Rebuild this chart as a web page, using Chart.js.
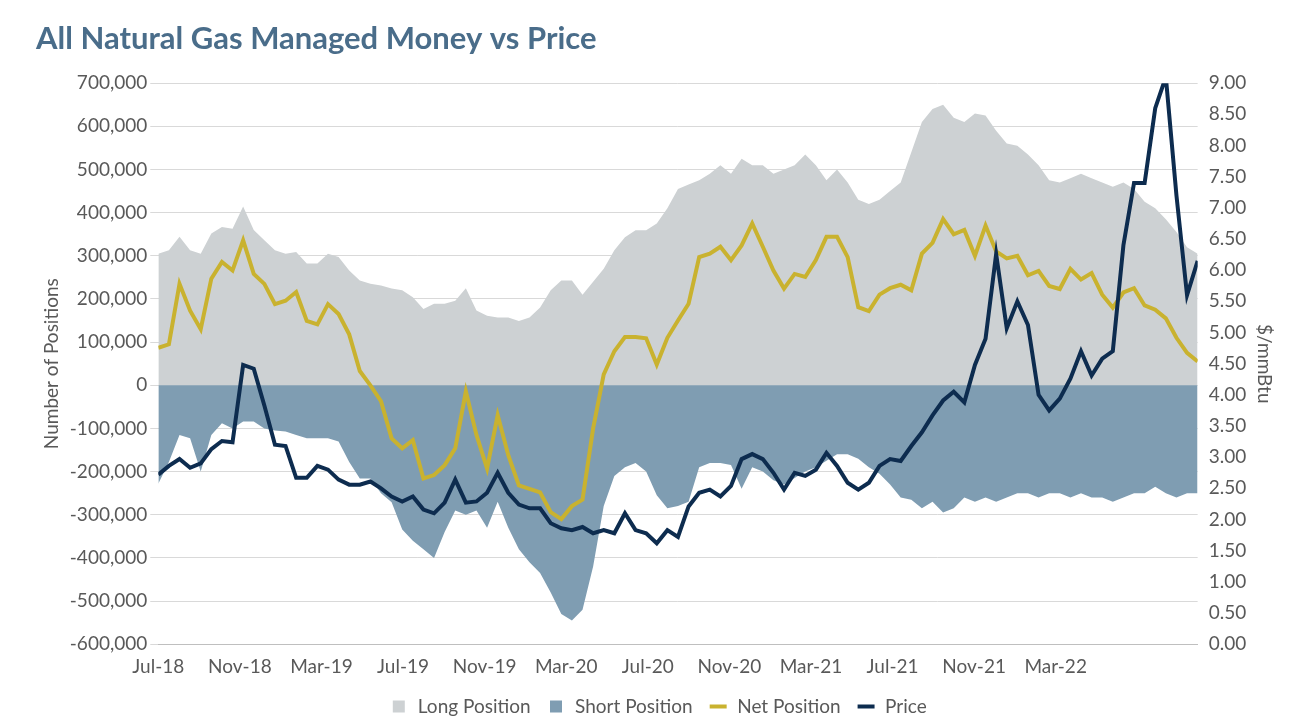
<!DOCTYPE html>
<html>
<head>
<meta charset="utf-8">
<script src="https://cdn.jsdelivr.net/npm/chart.js@4"></script>
<style>
  body { margin: 0; background: #fff; }
  #wrap { width: 1300px; height: 728px; }
</style>
</head>
<body>
<div id="wrap"><canvas id="myChart"></canvas></div>
<script>
// roughly half-month steps starting Jul-18
const tickLabels = ['Jul-18','Nov-18','Mar-19','Jul-19','Nov-19','Mar-20','Jul-20','Nov-20','Mar-21','Jul-21','Nov-21','Mar-22'];

const longPos = [305,313,344,313,305,352,367,363,414,360,336,313,305,309,282,282,305,297,
  266,243,235,231,224,220,204,177,189,189,196,225,173,161,157,157,149,157,180,220,243,243,210,
  240,270,313,343,359,359,375,410,
  455,465,475,490,510,490,525,510,510,490,500,510,535,510,475,500,
  470,430,420,430,450,470,540,610,640,650,620,610,630,625,590,560,555,535,510,475,470,480,490,480,470,
  460,470,455,425,410,385,355,320,305].map(v => v * 1000);

const shortPos = [-228,-178,-115,-123,-200,-115,-88,-100,-84,-84,-100,-105,-107,-115,-123,-123,-123,-130,
  -178,-216,-216,-250,-271,-334,-360,-380,-400,-340,-290,-300,-290,-330,-270,-330,-380,-410,-435,-480,-530,-545,-520,-420,
  -280,-210,-190,-180,-200,-255,-285,-280,-270,-190,-180,-180,-185,-240,-190,-200,-220,-230,-215,-200,-190,-175,-160,-160,-170,-190,-205,-230,-260,-265,
  -285,-270,-295,-285,-260,-270,-260,-270,-260,-250,-250,-260,-250,-250,-260,-250,-260,-260,-270,-260,-250,-250,-235,-250,-260,-250,-250].map(v => v * 1000);

const netPos = [87,95,235,173,130,247,286,266,336,258,235,188,196,216,149,141,188,165,
  118,33,0,-37,-123,-146,-127,-216,-208,-185,-146,-14,-115,-193,-69,-162,-232,-240,-248,-294,-310,-280,-265,
  -100,25,79,112,112,109,48,110,150,189,297,305,321,290,324,375,321,266,224,258,251,290,344,344,297,181,172,210,225,233,220,
  305,330,385,350,360,300,370,310,294,300,255,265,230,223,270,245,260,210,180,215,225,185,175,155,110,75,55].map(v => v * 1000);

const price = [2.72,2.86,2.97,2.83,2.9,3.13,3.26,3.24,4.48,4.42,3.83,3.2,3.18,2.67,2.67,2.86,2.8,2.64,
  2.56,2.56,2.61,2.5,2.37,2.29,2.37,2.16,2.1,2.27,2.64,2.27,2.29,2.43,2.75,2.43,2.24,2.18,2.18,1.94,1.86,1.83,1.88,
  1.78,1.83,1.78,2.1,1.83,1.78,1.62,1.83,1.72,2.21,2.43,2.48,2.37,2.54,2.97,3.05,2.97,2.75,2.48,2.75,2.7,2.8,3.07,2.86,2.59,2.48,2.59,2.86,2.97,2.94,3.18,
  3.4,3.67,3.91,4.05,3.88,4.48,4.9,6.26,5.07,5.5,5.12,4.0,3.75,3.94,4.26,4.7,4.31,4.58,4.7,6.4,7.4,7.4,8.6,9.1,7.2,5.6,6.15];

const step = 0.52; // months per data point
const pts = arr => arr.map((v, i) => ({ x: i * step, y: v }));

const tickFont = { family: 'Lato, "Open Sans", sans-serif', size: 19 };
const grey = '#595959';
const order = ['Long Position','Short Position','Net Position','Price'];

new Chart(document.getElementById('myChart'), {
  type: 'line',
  data: {
    datasets: [
      { label: 'Net Position', data: pts(netPos), borderColor: '#c9b22f', borderWidth: 4, pointRadius: 0, yAxisID: 'y', order: 2 },
      { label: 'Price', data: pts(price), borderColor: '#0d2c4f', borderWidth: 4, pointRadius: 0, yAxisID: 'y1', order: 1 },
      { label: 'Long Position', data: pts(longPos), borderWidth: 0, backgroundColor: '#cdd1d3', fill: 'origin', pointRadius: 0, yAxisID: 'y', order: 4 },
      { label: 'Short Position', data: pts(shortPos), borderWidth: 0, backgroundColor: '#7f9db2', fill: 'origin', pointRadius: 0, yAxisID: 'y', order: 3 }
    ]
  },
  options: {
    responsive: true,
    maintainAspectRatio: false,
    animation: false,
    layout: { padding: { left: 36, right: 20, bottom: 2 } },
    plugins: {
      title: {
        display: true, text: 'All Natural Gas Managed Money vs Price', align: 'start',
        color: '#4a6d8a', font: { family: 'Lato, sans-serif', size: 31, weight: 'bold' },
        padding: { top: 20, bottom: 26 }
      },
      legend: {
        position: 'bottom',
        labels: {
          color: grey, font: tickFont, usePointStyle: true, boxHeight: 12, padding: 16,
          sort: (a, b) => order.indexOf(a.text) - order.indexOf(b.text),
          generateLabels: chart => chart.data.datasets.map((d, i) => ({
            text: d.label, datasetIndex: i, fontColor: grey,
            fillStyle: d.backgroundColor || d.borderColor,
            strokeStyle: d.borderColor || d.backgroundColor,
            lineWidth: d.fill ? 0 : 4,
            pointStyle: d.fill ? 'rect' : 'line'
          }))
        }
      }
    },
    scales: {
      x: {
        type: 'linear', min: 0, max: 98 * step,
        grid: { display: false },
        border: { color: '#bfbfbf' },
        afterBuildTicks: axis => { axis.ticks = tickLabels.map((t, i) => ({ value: i * 4 })); },
        ticks: { color: grey, font: tickFont, maxRotation: 0, callback: v => tickLabels[v / 4] || '' }
      },
      y: {
        min: -600000, max: 700000,
        ticks: { stepSize: 100000, color: grey, font: tickFont, callback: v => v.toLocaleString('en-US') },
        grid: { color: '#d9d9d9' },
        border: { display: false },
        title: { display: true, text: 'Number of Positions', color: grey, font: tickFont }
      },
      y1: {
        position: 'right', min: 0, max: 9,
        ticks: { stepSize: 0.5, color: grey, font: tickFont, callback: v => v.toFixed(2) },
        grid: { display: false },
        border: { display: false },
        title: { display: true, text: '$/mmBtu', color: grey, font: tickFont }
      }
    }
  }
});
</script>
</body>
</html>
